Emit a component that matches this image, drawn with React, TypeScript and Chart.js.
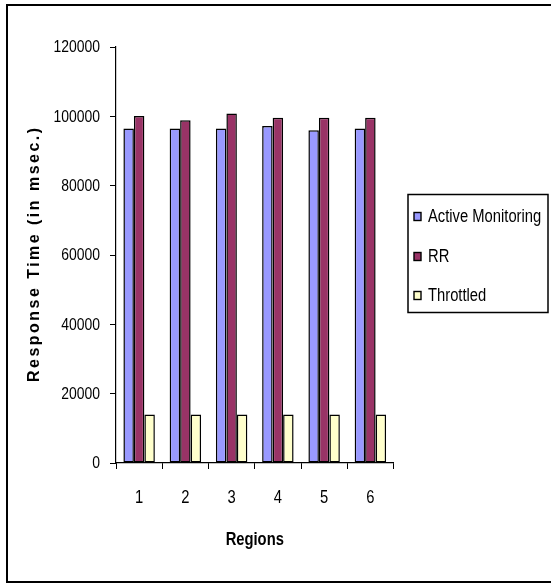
import React, { useEffect, useRef } from "react";
import { Chart, registerables } from "chart.js";

Chart.register(...registerables);

const regions = ["1", "2", "3", "4", "5", "6"];
const activeMonitoring = [96500, 96500, 96500, 97200, 96000, 96500];
const roundRobin = [100100, 98900, 100800, 99600, 99600, 99600];
const throttled = [14000, 14000, 14000, 14000, 14000, 14000];

const seriesNames = ["Active Monitoring", "RR", "Throttled"];
const seriesColors = ["#9999FF", "#993366", "#FFFFCC"];

const yTitle = "Response Time (in msec.)";
const xTitle = "Regions";

const SANS = '"Liberation Sans", Arial, sans-serif';
// horizontal squeeze that gives Liberation Sans an Arial Narrow look
const SQUEEZE = 0.82;

function narrowText(
  ctx: CanvasRenderingContext2D,
  text: string,
  x: number,
  y: number,
  align: CanvasTextAlign,
  font: string
) {
  ctx.save();
  ctx.font = font;
  ctx.fillStyle = "#000";
  ctx.textAlign = align;
  ctx.textBaseline = "middle";
  ctx.translate(x, y);
  ctx.scale(SQUEEZE, 1);
  ctx.fillText(text, 0, 0);
  ctx.restore();
}

// Frame, condensed axis labels, rotated y title and boxed legend
const decorations = {
  id: "decorations",
  afterDraw(chart: any) {
    const ctx = chart.ctx as CanvasRenderingContext2D;
    const xs = chart.scales.x;
    const ys = chart.scales.y;
    const area = chart.chartArea;
    ctx.save();
    // frame
    ctx.strokeStyle = "#000";
    ctx.lineWidth = 2;
    ctx.strokeRect(7, 5, 600, 577);

    // y tick labels
    ys.ticks.forEach((t: any) => {
      narrowText(ctx, String(t.value), area.left - 16, ys.getPixelForValue(t.value) + 0.5, "right", `17px ${SANS}`);
    });
    // x tick labels
    regions.forEach((r, i) => {
      narrowText(ctx, r, xs.getPixelForValue(i), area.bottom + 35, "center", `18px ${SANS}`);
    });
    // x title
    narrowText(ctx, xTitle, (area.left + area.right) / 2, area.bottom + 77, "center", `bold 18px ${SANS}`);

    // y axis title, spaced out along the axis
    ctx.save();
    ctx.translate(35, (area.top + area.bottom) / 2);
    ctx.rotate(-Math.PI / 2);
    ctx.font = `bold 16px ${SANS}`;
    ctx.fillStyle = "#000";
    ctx.textAlign = "center";
    ctx.textBaseline = "middle";
    const target = 254;
    (ctx as any).letterSpacing = "0px";
    const w = ctx.measureText(yTitle).width;
    const sp = Math.max(0, (target - w) / (yTitle.length - 1));
    (ctx as any).letterSpacing = `${sp}px`;
    ctx.fillText(yTitle, sp / 2, 0);
    ctx.restore();

    // legend
    const lx = 408, ly = 194.5, lw = 140, lh = 118;
    ctx.fillStyle = "#fff";
    ctx.fillRect(lx, ly, lw, lh);
    ctx.lineWidth = 1.5;
    ctx.strokeStyle = "#000";
    ctx.strokeRect(lx, ly, lw, lh);
    const rows = [216.5, 256.5, 295.5];
    seriesNames.forEach((name, i) => {
      ctx.fillStyle = seriesColors[i];
      ctx.fillRect(414, rows[i] - 4, 7, 8);
      ctx.lineWidth = 1.4;
      ctx.strokeStyle = "#000";
      ctx.strokeRect(414, rows[i] - 4, 7, 8);
      narrowText(ctx, name, 428, rows[i] + 1, "left", `18px ${SANS}`);
    });
    ctx.restore();
  },
};

export default function App() {
  const canvasRef = useRef<HTMLCanvasElement | null>(null);

  useEffect(() => {
    if (!canvasRef.current) return;
    const data = [activeMonitoring, roundRobin, throttled];
    const chart = new Chart(canvasRef.current, {
      type: "bar",
      data: {
        labels: regions,
        datasets: seriesNames.map((name, i) => ({
          label: name,
          data: data[i],
          backgroundColor: seriesColors[i],
          borderColor: "#000",
          borderWidth: 1.5,
          borderSkipped: false,
          categoryPercentage: 0.68,
          barPercentage: 1,
        })),
      },
      options: {
        animation: false,
        responsive: false,
        maintainAspectRatio: false,
        devicePixelRatio: 1,
        layout: { padding: { left: 0, top: 47, right: 157.5, bottom: 0 } },
        plugins: {
          legend: { display: false },
          tooltip: { enabled: false },
        },
        scales: {
          x: {
            grid: {
              display: true,
              drawOnChartArea: false,
              drawTicks: true,
              tickLength: 6,
              color: "#000",
              offset: true,
            },
            border: { display: true, color: "#000", width: 1.2 },
            ticks: { display: false },
            afterFit: (s: any) => {
              s.height = 122;
            },
          } as any,
          y: {
            min: 0,
            max: 120000,
            ticks: { stepSize: 20000, display: false },
            grid: {
              display: true,
              drawOnChartArea: false,
              drawTicks: true,
              tickLength: 6,
              color: "#000",
            },
            border: { display: true, color: "#000", width: 1.2 },
            afterFit: (s: any) => {
              s.width = 116;
            },
          } as any,
        },
      },
      plugins: [decorations],
    });
    return () => chart.destroy();
  }, []);

  return (
    <div style={{ position: "absolute", left: 0, top: 0, width: 551, height: 585, background: "#fff" }}>
      <canvas ref={canvasRef} width={551} height={585} style={{ width: 551, height: 585, display: "block" }} />
    </div>
  );
}
